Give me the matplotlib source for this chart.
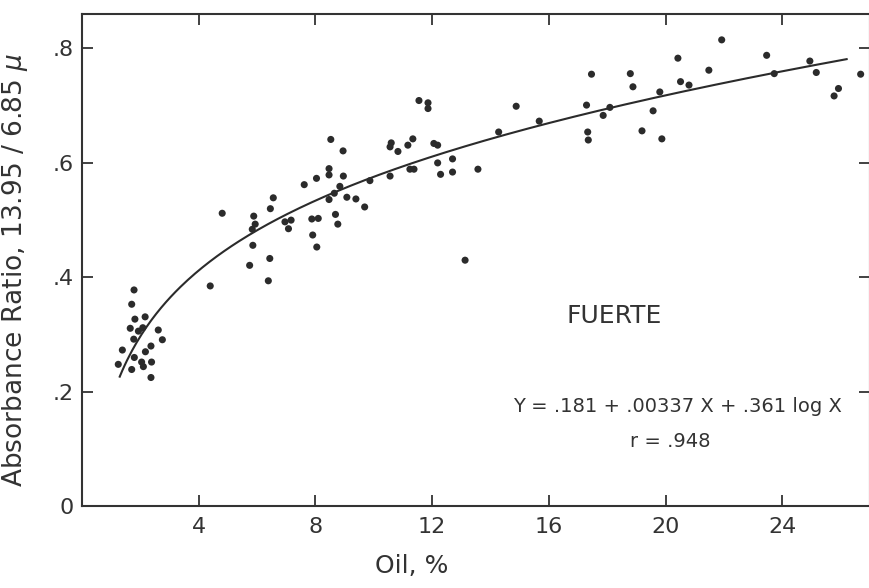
"""
Absorbance ratio vs. oil content (Fuerte avocado), with log fit curve.
Output: out.png
"""

import matplotlib as mpl
import matplotlib.pyplot as plt
import numpy as np

mpl.rcParams.update({
    "font.family":      ["DejaVu Sans"],
    "font.size":        15,
    "axes.linewidth":   1.5,
    "axes.edgecolor":   "#333333",
    "axes.labelcolor":  "#333333",
    "xtick.color":      "#333333",
    "ytick.color":      "#333333",
    "text.color":       "#333333",
})

INK = "#2b2b2b"

# ── Data ──────────────────────────────────────────────────────────
oil_pct = [
    # cluster at low oil
    1.79, 1.71, 1.82, 2.17, 1.66, 1.94, 2.09, 2.62, 1.78, 2.76,
    2.37, 1.39, 2.18, 1.80, 1.25, 2.05, 2.39, 2.11, 1.71, 2.37,
    # middle
    4.40, 4.81, 5.89, 5.94, 5.84, 5.86, 5.75, 6.39, 6.44, 6.46,
    6.56, 6.96, 7.17, 7.08, 7.62, 8.04, 7.88, 8.10, 7.91, 8.05,
    8.47, 8.47, 8.47, 8.53, 8.95, 8.96, 8.84, 8.65, 9.08, 9.39,
    9.69, 9.87, 8.69, 8.77, 10.56, 10.60, 10.56, 10.83, 11.17, 11.34,
    11.24, 11.38, 11.55, 11.86, 11.86, 12.06, 12.19, 12.19, 12.29, 12.70,
    12.70, 13.57, 13.13, 14.88, 14.28, 15.67,
    # high oil
    17.46, 17.29, 17.33, 17.35, 17.86, 18.09, 18.79, 18.88, 19.19, 19.57,
    19.80, 19.87, 20.42, 20.51, 20.80, 21.48, 21.92, 23.46, 23.72, 24.94,
    25.16, 25.92, 25.77, 26.68,
]
abs_ratio = [
    0.378, 0.353, 0.327, 0.331, 0.311, 0.306, 0.312, 0.308, 0.292, 0.291,
    0.280, 0.273, 0.270, 0.260, 0.248, 0.252, 0.252, 0.244, 0.239, 0.225,
    0.385, 0.512, 0.507, 0.493, 0.484, 0.456, 0.421, 0.394, 0.433, 0.520,
    0.539, 0.497, 0.500, 0.485, 0.562, 0.573, 0.502, 0.503, 0.474, 0.453,
    0.590, 0.579, 0.536, 0.641, 0.621, 0.577, 0.559, 0.547, 0.540, 0.537,
    0.523, 0.569, 0.510, 0.493, 0.577, 0.635, 0.628, 0.620, 0.631, 0.642,
    0.589, 0.589, 0.709, 0.705, 0.695, 0.634, 0.631, 0.600, 0.580, 0.607,
    0.584, 0.589, 0.430, 0.699, 0.654, 0.673,
    0.755, 0.701, 0.654, 0.640, 0.683, 0.697, 0.756, 0.733, 0.656, 0.691,
    0.724, 0.642, 0.783, 0.742, 0.736, 0.762, 0.815, 0.788, 0.756, 0.778,
    0.758, 0.730, 0.717, 0.755,
]

# regression printed on the chart
FIT_A, FIT_B, FIT_C = 0.181, 0.00337, 0.361
FIT_X_RANGE = (1.3, 26.2)

x_ticks = [4, 8, 12, 16, 20, 24]
y_ticks = [0, 0.2, 0.4, 0.6, 0.8]
y_tick_labels = ["0", ".2", ".4", ".6", ".8"]

# ── Plot ──────────────────────────────────────────────────────────
fig = plt.figure(figsize=(8.7, 5.88), dpi=100)
ax = fig.add_axes([0.094, 0.139, 0.906, 0.837])

xs = np.linspace(*FIT_X_RANGE, 300)
ax.plot(xs, FIT_A + FIT_B * xs + FIT_C * np.log10(xs),
        color=INK, linewidth=1.5, zorder=2)
ax.scatter(oil_pct, abs_ratio, s=26, color=INK, edgecolors="none", zorder=3)

ax.set_xlim(0, 27)
ax.set_ylim(0, 0.86)
ax.set_xticks(x_ticks)
ax.set_yticks(y_ticks)
ax.set_yticklabels(y_tick_labels)

ax.tick_params(direction="in", length=8, width=1.3,
               top=True, right=True, labelsize=16)
ax.tick_params(axis="x", pad=8)
ax.tick_params(axis="y", pad=6)

ax.set_xlabel("Oil, %", fontsize=18)
ax.xaxis.set_label_coords(0.419, -0.098)
ax.set_ylabel(r"Absorbance Ratio, 13.95 / 6.85 $\mu$", fontsize=19)
ax.yaxis.set_label_coords(-0.066, 0.48)

ax.text(18.25, 0.332, "FUERTE", fontsize=18, ha="center", va="center")
ax.text(20.4, 0.175, "Y = .181 + .00337 X + .361 log X",
        fontsize=14, ha="center", va="center")
ax.text(20.15, 0.113, "r = .948", fontsize=14, ha="center", va="center")

fig.savefig("out.png", dpi=100)
plt.close(fig)
